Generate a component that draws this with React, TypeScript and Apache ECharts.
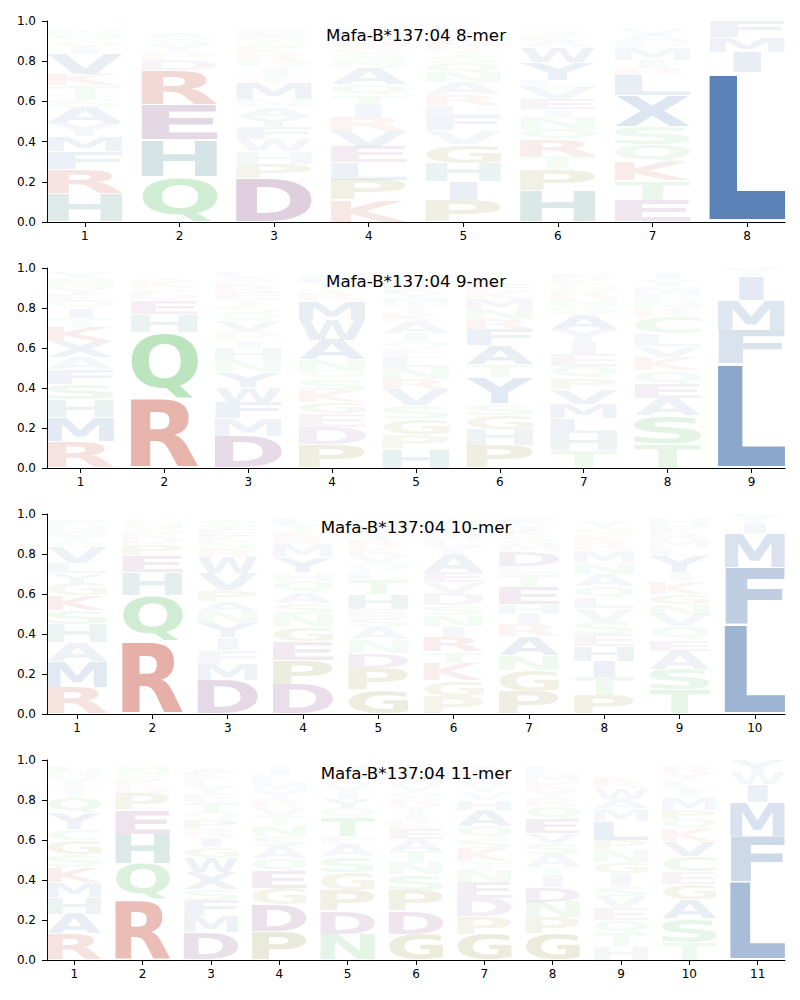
import React, { useEffect, useRef } from "react";
import * as echarts from "echarts";

// ---------------- data (letter, height) stacked bottom -> top ----------------
const TITLES = [
  "Mafa-B*137:04 8-mer",
  "Mafa-B*137:04 9-mer",
  "Mafa-B*137:04 10-mer",
  "Mafa-B*137:04 11-mer",
];

type Col = [string, number][];

const mer8: Col[] = [
  [["H", .139], ["R", .121], ["F", .09], ["M", .076], ["Y", .066], ["A", .08], ["S", .04], ["T", .066], ["K", .058], ["V", .1], ["I", .04], ["G", .03], ["Q", .03], ["N", .025], ["E", .02], ["W", .01], ["D", .005]],
  [["Q", .226], ["H", .182], ["E", .174], ["R", .171], ["D", .05], ["P", .04], ["Y", .04], ["S", .03], ["A", .025], ["N", .02], ["K", .02], ["G", .017]],
  [["D", .214], ["P", .075], ["H", .063], ["W", .061], ["F", .063], ["Y", .046], ["A", .05], ["N", .04], ["M", .08], ["T", .04], ["I", .03], ["Q", .04], ["R", .035], ["K", .03], ["S", .03], ["G", .03], ["E", .025], ["L", .02], ["V", .018]],
  [["K", .109], ["P", .1], ["L", .086], ["E", .078], ["V", .08], ["R", .07], ["I", .06], ["T", .05], ["Q", .05], ["A", .083], ["N", .033], ["S", .04], ["G", .03], ["D", .03], ["M", .025], ["Y", .025], ["F", .02], ["W", .02], ["H", .01]],
  [["P", .109], ["I", .093], ["H", .091], ["G", .093], ["V", .07], ["F", .07], ["L", .055], ["R", .055], ["A", .058], ["N", .05], ["Q", .046], ["S", .033], ["T", .03], ["K", .025], ["E", .025], ["M", .02], ["Y", .02], ["W", .02], ["C", .015], ["D", .01]],
  [["H", .156], ["P", .104], ["T", .066], ["R", .08], ["Q", .055], ["N", .058], ["I", .04], ["E", .05], ["V", .058], ["L", .04], ["Y", .09], ["W", .075], ["A", .03], ["K", .025], ["S", .025], ["M", .02], ["F", .02]],
  [["E", .109], ["T", .096], ["K", .091], ["Q", .091], ["S", .088], ["X", .156], ["L", .1], ["R", .041], ["I", .033], ["M", .06], ["F", .036], ["A", .03], ["V", .03], ["Y", .02], ["N", .015]],
  [["L", .745], ["I", .1], ["M", .075], ["F", .078]],
];

const mer9: Col[] = [
  [["R", .13], ["M", .122], ["H", .088], ["S", .08], ["F", .072], ["A", .06], ["X", .08], ["K", .072], ["T", .045], ["I", .047], ["Q", .04], ["E", .03], ["Y", .035], ["N", .03], ["G", .025], ["V", .027]],
  [["R", .345], ["Q", .335], ["H", .088], ["E", .07], ["D", .03], ["P", .03], ["K", .03], ["S", .025], ["N", .02], ["G", .02]],
  [["D", .16], ["M", .087], ["F", .083], ["W", .075], ["Y", .075], ["N", .058], ["H", .058], ["I", .042], ["P", .045], ["V", .05], ["Q", .04], ["S", .035], ["T", .035], ["E", .03], ["R", .03], ["K", .025], ["A", .025], ["L", .025]],
  [["P", .117], ["D", .088], ["E", .067], ["G", .055], ["K", .063], ["S", .055], ["Q", .045], ["N", .05], ["A", .1], ["W", .1], ["M", .097], ["R", .03], ["T", .03], ["Y", .03], ["L", .03], ["V", .02], ["F", .015]],
  [["H", .097], ["P", .07], ["G", .075], ["S", .07], ["V", .08], ["R", .05], ["N", .06], ["L", .05], ["E", .04], ["Q", .04], ["I", .04], ["A", .06], ["K", .04], ["T", .04], ["M", .03], ["Y", .03], ["F", .03], ["D", .03], ["W", .025], ["C", .02]],
  [["P", .113], ["H", .08], ["G", .072], ["S", .058], ["Y", .13], ["T", .063], ["A", .097], ["F", .083], ["R", .05], ["N", .05], ["M", .05], ["K", .04], ["E", .03], ["L", .027], ["Q", .02], ["I", .02]],
  [["T", .088], ["H", .085], ["L", .075], ["M", .072], ["V", .072], ["P", .055], ["Q", .063], ["E", .06], ["I", .057], ["Y", .067], ["A", .075], ["S", .04], ["N", .04], ["R", .035], ["G", .035], ["K", .025], ["F", .025], ["W", .02]],
  [["T", .122], ["S", .138], ["A", .088], ["E", .072], ["Q", .067], ["K", .068], ["V", .055], ["L", .063], ["C", .083], ["R", .04], ["N", .04], ["F", .035], ["M", .035], ["Y", .035], ["I", .035], ["G", .015]],
  [["L", .52], ["F", .168], ["M", .15], ["I", .124], ["Y", .038]],
];

const mer10: Col[] = [
  [["R", .133], ["M", .128], ["A", .095], ["H", .092], ["S", .072], ["K", .072], ["G", .063], ["Y", .047], ["L", .05], ["V", .08], ["Q", .03], ["T", .03], ["E", .025], ["N", .025], ["F", .027], ["I", .02]],
  [["R", .36], ["Q", .233], ["H", .117], ["E", .083], ["P", .055], ["D", .03], ["K", .025], ["S", .025], ["N", .025], ["G", .023], ["A", .015]],
  [["D", .167], ["M", .083], ["F", .07], ["I", .063], ["Y", .072], ["N", .058], ["A", .05], ["P", .055], ["V", .087], ["W", .08], ["R", .04], ["S", .035], ["K", .03], ["E", .03], ["T", .025], ["Q", .027], ["G", .02]],
  [["D", .147], ["P", .122], ["E", .092], ["G", .072], ["N", .067], ["S", .055], ["A", .055], ["Q", .055], ["H", .042], ["Y", .075], ["M", .058], ["R", .035], ["K", .035], ["T", .035], ["L", .032], ["V", .015]],
  [["G", .122], ["P", .108], ["D", .072], ["N", .07], ["A", .063], ["S", .047], ["E", .043], ["H", .075], ["T", .072], ["L", .04], ["Q", .04], ["V", .04], ["K", .04], ["R", .035], ["Y", .035], ["F", .035], ["M", .035], ["I", .02]],
  [["P", .088], ["G", .08], ["K", .088], ["T", .055], ["R", .072], ["I", .055], ["N", .055], ["S", .05], ["D", .06], ["V", .055], ["E", .05], ["A", .092], ["Y", .04], ["L", .035], ["M", .035], ["F", .03], ["W", .03], ["Q", .02]],
  [["P", .113], ["G", .105], ["N", .072], ["A", .097], ["R", .063], ["I", .05], ["H", .047], ["E", .088], ["T", .063], ["L", .042], ["D", .072], ["M", .04], ["S", .035], ["K", .03], ["Y", .03], ["F", .027], ["Q", .02]],
  [["P", .093], ["T", .092], ["I", .08], ["H", .072], ["E", .063], ["S", .06], ["V", .07], ["L", .052], ["Q", .058], ["A", .06], ["N", .055], ["M", .063], ["R", .04], ["K", .035], ["G", .035], ["Y", .035], ["F", .02], ["D", .01]],
  [["T", .122], ["S", .102], ["A", .092], ["E", .055], ["Q", .067], ["V", .057], ["N", .053], ["G", .052], ["K", .063], ["I", .045], ["Y", .08], ["L", .04], ["M", .04], ["R", .035], ["F", .035], ["H", .037], ["D", .015]],
  [["L", .445], ["F", .288], ["M", .172], ["I", .055], ["Y", .04]],
];

const mer11: Col[] = [
  [["R", .13], ["A", .1], ["H", .083], ["M", .075], ["K", .077], ["S", .063], ["G", .072], ["C", .055], ["Y", .08], ["Q", .072], ["T", .04], ["I", .035], ["V", .035], ["N", .03], ["F", .022], ["E", .02]],
  [["R", .3], ["Q", .18], ["H", .15], ["E", .12], ["P", .08], ["D", .035], ["K", .03], ["S", .03], ["N", .03], ["G", .028]],
  [["D", .138], ["M", .078], ["F", .08], ["S", .055], ["X", .088], ["W", .075], ["G", .052], ["I", .047], ["R", .038], ["P", .047], ["Q", .038], ["T", .055], ["E", .04], ["Y", .04], ["L", .035], ["K", .03], ["A", .025], ["V", .02], ["N", .015]],
  [["P", .143], ["D", .133], ["G", .083], ["E", .087], ["Q", .063], ["A", .06], ["S", .05], ["N", .055], ["T", .045], ["V", .043], ["R", .04], ["Y", .04], ["M", .04], ["L", .04], ["I", .04], ["K", .02], ["F", .01]],
  [["N", .13], ["D", .113], ["P", .105], ["G", .088], ["S", .08], ["A", .063], ["E", .038], ["T", .097], ["Q", .045], ["Y", .047], ["I", .04], ["V", .035], ["K", .035], ["R", .03], ["H", .03], ["M", .015]],
  [["G", .13], ["D", .117], ["P", .1], ["S", .08], ["N", .058], ["T", .06], ["A", .06], ["E", .05], ["K", .04], ["I", .04], ["Y", .04], ["R", .035], ["Q", .035], ["V", .035], ["M", .03], ["L", .03], ["F", .03], ["H", .02]],
  [["G", .13], ["P", .085], ["D", .092], ["E", .08], ["N", .063], ["T", .043], ["K", .067], ["S", .047], ["Q", .063], ["A", .08], ["H", .047], ["V", .04], ["Y", .04], ["L", .035], ["R", .03], ["I", .025], ["M", .02]],
  [["G", .13], ["P", .083], ["N", .077], ["D", .072], ["I", .063], ["T", .045], ["A", .06], ["S", .055], ["V", .047], ["E", .072], ["Q", .063], ["R", .04], ["Y", .04], ["K", .04], ["M", .04], ["L", .04], ["F", .02]],
  [["H", .067], ["T", .068], ["Q", .063], ["E", .063], ["V", .058], ["S", .052], ["I", .063], ["G", .055], ["N", .063], ["P", .047], ["L", .097], ["M", .063], ["A", .047], ["W", .055], ["R", .03], ["K", .025], ["Y", .02], ["F", .02], ["D", .02], ["C", .015]],
  [["T", .088], ["S", .118], ["A", .097], ["G", .075], ["E", .063], ["C", .075], ["V", .077], ["K", .063], ["Q", .047], ["P", .047], ["M", .063], ["I", .04], ["L", .04], ["Y", .04], ["R", .033], ["N", .02]],
  [["L", .39], ["F", .228], ["M", .172], ["I", .09], ["W", .06], ["Y", .06]],
];

const PANELS: Col[][] = [mer8, mer9, mer10, mer11];

// ---------------- layout & style ----------------
const GRID_TOP = [21, 268, 514, 760];
const GRID_H = [201, 200, 200, 200];
const TITLE_Y = [35, 281.3, 527.3, 773.3];
const GRID_LEFT = 47;
const GRID_RIGHT = 15;

const BASE: Record<string, [number, number, number]> = {
  blue: [79, 120, 176],
  red: [200, 80, 63],
  green: [92, 191, 102],
  purple: [136, 74, 136],
  teal: [69, 137, 137],
  olive: [138, 138, 48],
};
const GROUP: Record<string, string> = {
  A: "blue", C: "green", D: "purple", E: "purple", F: "blue", G: "olive",
  H: "teal", I: "blue", K: "red", L: "blue", M: "blue", N: "green",
  P: "olive", Q: "green", R: "red", S: "green", T: "green", V: "blue",
  W: "blue", X: "blue", Y: "blue",
};
const LETTERS = "ACDEFGHIKLMNPQRSTVWXY";
const FONT = "bold 100px DejaVu Sans";
const GLYPH_W = 0.8;
const VPAD = 0.04;
// vertical offset (at 100px) between canvas 'middle' and the SVG text reference point
const SVG_BASELINE_SHIFT = 8.8;

type Metric = { l: number; r: number; a: number; d: number; w: number };

function measureGlyphs(): Record<string, Metric> {
  const c = document.createElement("canvas");
  const ctx = c.getContext("2d")!;
  ctx.font = FONT;
  ctx.textBaseline = "middle";
  ctx.textAlign = "left";
  const out: Record<string, Metric> = {};
  for (const ch of LETTERS) {
    const m = ctx.measureText(ch);
    const l = m.actualBoundingBoxLeft;
    const r = m.actualBoundingBoxRight;
    const a = m.actualBoundingBoxAscent;
    const d = m.actualBoundingBoxDescent;
    out[ch] = { l, r, a, d, w: l + r };
  }
  return out;
}

export default function App() {
  const ref = useRef<HTMLDivElement>(null);

  useEffect(() => {
    if (!ref.current) return;
    const chart = echarts.init(ref.current, null, { renderer: "svg" });
    const M = measureGlyphs();
    const E = M["E"];

    const grids: any[] = [];
    const xAxes: any[] = [];
    const yAxes: any[] = [];
    const series: any[] = [];
    const graphics: any[] = [];

    PANELS.forEach((cols, p) => {
      const n = cols.length;
      const ticks = cols.map((_, i) => i + 1);
      grids.push({ left: GRID_LEFT, right: GRID_RIGHT, top: GRID_TOP[p], height: GRID_H[p] });
      xAxes.push({
        gridIndex: p,
        type: "value",
        min: 0.6,
        max: n + 0.4,
        axisLine: { show: true, lineStyle: { color: "#000", width: 1 } },
        axisTick: { show: true, customValues: ticks, length: 5, lineStyle: { color: "#000", width: 1 } },
        axisLabel: {
          customValues: ticks,
          color: "#000",
          fontSize: 12,
          fontFamily: "DejaVu Sans",
          margin: 8,
          formatter: (v: number) => String(v),
        },
        splitLine: { show: false },
      });
      yAxes.push({
        gridIndex: p,
        type: "value",
        min: 0,
        max: 1,
        interval: 0.2,
        axisLine: { show: true, lineStyle: { color: "#000", width: 1 } },
        axisTick: { show: true, length: 5, lineStyle: { color: "#000", width: 1 } },
        axisLabel: {
          color: "#000",
          fontSize: 12,
          fontFamily: "DejaVu Sans",
          margin: 11,
          formatter: (v: number) => v.toFixed(1),
        },
        splitLine: { show: false },
      });

      const items: number[][] = [];
      cols.forEach((col, i) => {
        let cum = 0;
        col.forEach(([ch, h]) => {
          items.push([i + 1, cum, cum + h, LETTERS.indexOf(ch), h]);
          cum += h;
        });
      });

      series.push({
        type: "custom",
        xAxisIndex: p,
        yAxisIndex: p,
        silent: true,
        data: items,
        encode: { x: 0, y: [1, 2] },
        renderItem: (_params: any, api: any) => {
          const x = api.value(0);
          const y0 = api.value(1);
          const y1 = api.value(2);
          const ch = LETTERS[api.value(3)];
          const h = api.value(4);
          const pad = (VPAD * (y1 - y0)) / 2;
          const pBL = api.coord([x - GLYPH_W / 2, y0 + pad]);
          const pTR = api.coord([x + GLYPH_W / 2, y1 - pad]);
          const boxW = pTR[0] - pBL[0];
          const boxH = pBL[1] - pTR[1];
          const m = M[ch];
          const sx = Math.min(boxW / m.w, boxW / E.w);
          const inkW = sx * m.w;
          const left = (pBL[0] + pTR[0]) / 2 - inkW / 2;
          const sy = boxH / (m.a + m.d);
          const top = pTR[1];
          const c = BASE[GROUP[ch]];
          const alpha = Math.min(1, 1.25 * h);
          return {
            type: "text",
            x: left + sx * m.l,
            y: top + sy * (m.a - SVG_BASELINE_SHIFT),
            scaleX: sx,
            scaleY: sy,
            style: {
              text: ch,
              font: FONT,
              fill: `rgba(${c[0]},${c[1]},${c[2]},${alpha.toFixed(3)})`,
              align: "left",
              verticalAlign: "middle",
              textAlign: "left",
              textVerticalAlign: "middle",
            },
          };
        },
      });

      graphics.push({
        type: "text",
        x: (GRID_LEFT + (800 - GRID_RIGHT)) / 2,
        y: TITLE_Y[p],
        style: {
          text: TITLES[p],
          font: "16.7px DejaVu Sans",
          fill: "#000",
          textAlign: "center",
          textVerticalAlign: "middle",
          align: "center",
          verticalAlign: "middle",
        },
      });
    });

    chart.setOption({
      animation: false,
      backgroundColor: "#fff",
      grid: grids,
      xAxis: xAxes,
      yAxis: yAxes,
      series,
      graphic: graphics,
    });

    return () => chart.dispose();
  }, []);

  return (
    <div
      ref={ref}
      style={{ position: "fixed", left: 0, top: 0, width: 800, height: 1000, background: "#fff" }}
    />
  );
}
